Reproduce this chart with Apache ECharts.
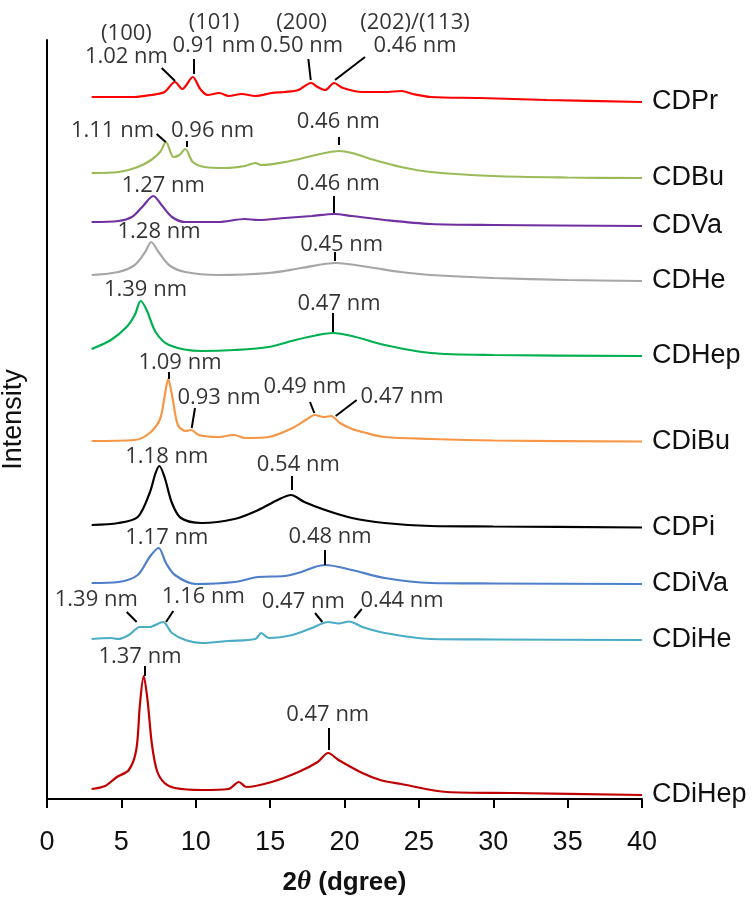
<!DOCTYPE html>
<html>
<head>
<meta charset="utf-8">
<script src="https://cdn.jsdelivr.net/npm/echarts@6/dist/echarts.min.js"></script>
<style>
  body { margin: 0; background: #fff; }
  #main { width: 752px; height: 898px; }
</style>
</head>
<body>
<div id="main"></div>
<script>
// 2theta tick labels
var xTicks = [0, 5, 10, 15, 20, 25, 30, 35, 40];

// sample names, top to bottom
var sampleNames = ['CDPr', 'CDBu', 'CDVa', 'CDHe', 'CDHep', 'CDiBu', 'CDPi', 'CDiVa', 'CDiHe', 'CDiHep'];
var sampleColors = ['#ff0000', '#9bbb59', '#7030a0', '#a6a6a6', '#00b050', '#f79646', '#000000', '#4f7fc9', '#4bacc6', '#c00000'];

// [2theta, intensity (stacked, arbitrary units)]
var cdPr = [[3,702],[5.9,702],[7,704],[7.9,707],[8.6,717],[9.1,710],[9.8,722],[10.3,710],[10.8,704],[11.6,706],[12.2,703],[13.1,705],[14,703],[15.1,706],[16,707],[16.9,709],[17.75,716],[18.2,712],[18.7,709],[19.3,716],[19.9,711],[21.2,707],[22.7,707],[23.85,708],[24.6,705],[25.8,702],[29.1,701],[33.6,699],[40,697]];
var cdBu = [[3,626],[4.8,627],[6.1,632],[7,639],[7.6,647],[8,657],[8.5,642],[8.9,644],[9.3,650],[9.8,637],[10.6,632],[12,631],[13.3,633],[14,636],[14.4,634],[16,637],[17.8,643],[18.7,646],[19.6,648],[20.5,646],[22,639],[23.8,632],[25.8,627],[30,623],[35,621.5],[40,621]];
var cdVa = [[3,577],[4.8,578],[5.7,582],[6.4,592],[7.15,603],[7.7,594],[8.4,582],[9.3,577],[11.5,577],[13.3,580],[14.2,579],[16,581],[17.8,583],[19.3,585],[20.5,583],[22.7,579],[25.8,575],[30,574],[40,573]];
var cdHe = [[3,524],[4.8,527],[5.9,534],[6.6,547],[7,557],[7.5,547],[8.2,534],[9.3,527],[11.5,524],[14.9,526],[17.1,531],[19.4,536],[21.6,532],[23.8,527],[25.8,524],[30,521],[35,519],[40,518]];
var cdHep = [[3,450],[4.3,459],[5.35,472],[5.9,484],[6.3,498],[6.7,489],[7.3,467],[8.2,454],[10.4,448],[12.6,449],[14.9,452],[16.7,459],[18.2,464],[19.2,466],[20.5,463],[22.7,454],[25.8,446],[30,444],[40,443]];
var cdiBu = [[3,358],[5.9,359],[6.9,366],[7.6,380],[7.9,402],[8.15,420],[8.45,400],[8.8,374],[9.3,368],[9.7,369],[10.2,364],[11.5,362],[12.6,364],[13.3,361],[14.9,362],[16.5,371],[17.5,380],[18,384],[18.6,382],[19.1,383],[19.7,376],[20.5,370],[21.2,367],[22.7,362],[25.8,360],[30,358.5],[40,357.5]];
var cdPi = [[3,274],[4.8,276],[6.1,282],[6.9,306],[7.3,326],[7.55,333],[7.9,322],[8.4,296],[9,281],[10.4,276],[12.6,280],[14.2,289],[15.5,299],[16.4,304],[17.3,297],[18.7,289],[20.5,281],[22.7,276],[25.8,273],[30,272.5],[40,271.5]];
var cdiVa = [[3,216],[4.8,217],[6.1,224],[6.9,242],[7.5,251],[8,236],[8.6,224],[10,215],[12.6,217],[14.2,222],[16,223],[17.1,227],[18,232],[18.7,234],[20.5,229],[22.7,221],[25.8,216],[30,215.5],[40,215]];
var cdiHe = [[3,160],[4.3,161],[4.8,160],[5.5,164],[6.25,172],[6.9,172],[7.8,177],[8.4,166],[9.3,159],[10.4,156],[12.2,158],[14,160],[14.4,166],[14.9,161],[16.5,164],[17.8,171],[18.9,177],[19.6,175.5],[20.3,177.5],[21.2,172],[22.7,166],[25.8,160],[30,159.5],[40,159]];
var cdiHep = [[3,10],[3.9,13],[4.7,22],[5.5,29],[6,49],[6.25,95],[6.5,123],[6.75,100],[7.05,55],[7.4,28],[7.9,16],[8.6,11],[10.4,9],[12.2,10],[12.9,17],[13.4,12],[15.1,17],[16.9,27],[18.2,37],[18.9,46],[19.6,39],[21.2,26],[22.4,19],[23.8,15],[26.9,7],[31.3,6],[40,4]];

var sampleData = [cdPr, cdBu, cdVa, cdHe, cdHep, cdiBu, cdPi, cdiVa, cdiHe, cdiHep];

// peak labels: text, label centre, leader line from -> to (data coords)
var peakLabels = [
  { text: '(100)\n1.02 nm', at: [5.34, 754], from: [7.71, 731], to: [8.61, 718] },
  { text: '(101)\n0.91 nm', at: [11.23, 765], from: [9.88, 740], to: [9.88, 725] },
  { text: '(200)\n0.50 nm', at: [17.12, 765], from: [17.57, 740], to: [17.73, 719] },
  { text: '(202)/(113)\n0.46 nm', at: [24.74, 765], from: [21.38, 742], to: [19.36, 719] },
  { text: '1.11 nm', at: [4.40, 668], from: [7.37, 665], to: [7.98, 657] },
  { text: '0.96 nm', at: [11.13, 668], from: [9.39, 658], to: [9.39, 652] },
  { text: '0.46 nm', at: [19.58, 677], from: [19.58, 662], to: [19.58, 654] },
  { text: '1.27 nm', at: [7.82, 613] },
  { text: '0.46 nm', at: [19.58, 615], from: [19.25, 603], to: [19.25, 586] },
  { text: '1.28 nm', at: [7.53, 567] },
  { text: '0.45 nm', at: [19.81, 554], from: [19.32, 547], to: [19.32, 538] },
  { text: '1.39 nm', at: [6.62, 509] },
  { text: '0.47 nm', at: [19.63, 495], from: [19.18, 486], to: [19.18, 467] },
  { text: '1.09 nm', at: [8.94, 436], from: [8.20, 427], to: [8.20, 420] },
  { text: '0.93 nm', at: [11.56, 401], from: [9.95, 391], to: [9.73, 371] },
  { text: '0.49 nm', at: [17.34, 412], from: [17.68, 397], to: [17.97, 386] },
  { text: '0.47 nm', at: [23.87, 402], from: [20.82, 399], to: [19.41, 383] },
  { text: '1.18 nm', at: [8.05, 342] },
  { text: '0.54 nm', at: [16.89, 334], from: [16.45, 323], to: [16.45, 309] },
  { text: '1.17 nm', at: [8.05, 261] },
  { text: '0.48 nm', at: [19.03, 262], from: [18.69, 249], to: [18.69, 234] },
  { text: '1.39 nm', at: [3.31, 199], from: [5.36, 187], to: [6.03, 177] },
  { text: '1.16 nm', at: [10.51, 202], from: [8.49, 188], to: [8.0, 177] },
  { text: '0.47 nm', at: [17.23, 197], from: [18.02, 186], to: [18.51, 177] },
  { text: '0.44 nm', at: [23.87, 198], from: [21.16, 190], to: [20.66, 181] },
  { text: '1.37 nm', at: [6.25, 142], from: [6.59, 133], to: [6.59, 123] },
  { text: '0.47 nm', at: [18.87, 84], from: [18.91, 71], to: [18.91, 49] }
];

var myChart = echarts.init(document.getElementById('main'), null, { renderer: 'canvas' });

var seriesList = [];
for (var i = 0; i < sampleNames.length; i++) {
  seriesList.push({
    name: sampleNames[i],
    type: 'line',
    data: sampleData[i],
    smooth: 0.3,
    showSymbol: false,
    lineStyle: { color: sampleColors[i], width: 2.2 },
    itemStyle: { color: sampleColors[i] },
    endLabel: {
      show: true,
      formatter: '{a}',
      distance: 10,
      color: '#111',
      fontFamily: 'Liberation Sans',
      fontSize: 27
    },
    z: 2
  });
}

// leader lines
seriesList.push({
  type: 'lines',
  coordinateSystem: 'cartesian2d',
  silent: true,
  clip: false,
  lineStyle: { color: '#000', width: 2, opacity: 1, curveness: 0 },
  data: peakLabels.filter(function (p) { return p.from; }).map(function (p) {
    return { coords: [p.from, p.to] };
  }),
  z: 3
});

// peak text
seriesList.push({
  type: 'scatter',
  silent: true,
  clip: false,
  symbol: 'circle',
  symbolSize: 1,
  itemStyle: { color: 'rgba(0,0,0,0)' },
  label: {
    show: true,
    position: 'inside',
    formatter: '{b}',
    color: '#000',
    fontFamily: 'Open Sans',
    fontSize: 22,
    lineHeight: 23
  },
  labelLayout: { hideOverlap: false },
  data: peakLabels.map(function (p) {
    return { name: p.text, value: p.at };
  }),
  z: 4
});

var option = {
  animation: false,
  backgroundColor: '#fff',
  grid: { left: 47, right: 110, top: 40, bottom: 99, containLabel: false, outerBoundsMode: 'none' },
  xAxis: {
    type: 'value',
    min: xTicks[0],
    max: xTicks[xTicks.length - 1],
    interval: 5,
    name: '{n|2}{i|θ}{n| (dgree)}',
    nameLocation: 'middle',
    nameGap: 70,
    nameTextStyle: {
      rich: {
        n: { fontFamily: 'Liberation Sans', fontSize: 26, fontWeight: 'bold', color: '#111' },
        i: { fontFamily: 'Liberation Serif', fontSize: 27, fontWeight: 'bold', fontStyle: 'italic', color: '#111' }
      }
    },
    axisLine: { show: true, onZero: false, lineStyle: { color: '#000', width: 2 } },
    axisTick: { show: true, inside: false, length: 9, lineStyle: { color: '#000', width: 2 } },
    axisLabel: { margin: 30, color: '#111', fontFamily: 'Liberation Sans', fontSize: 27 },
    splitLine: { show: false }
  },
  yAxis: {
    type: 'value',
    min: 0,
    max: 759,
    name: 'Intensity',
    nameLocation: 'middle',
    nameGap: 20,
    nameTextStyle: { fontFamily: 'Liberation Sans', fontSize: 27, color: '#111' },
    axisLine: { show: true, lineStyle: { color: '#000', width: 2 } },
    axisTick: { show: false },
    axisLabel: { show: false },
    splitLine: { show: false }
  },
  series: seriesList
};

myChart.setOption(option);
</script>
</body>
</html>
